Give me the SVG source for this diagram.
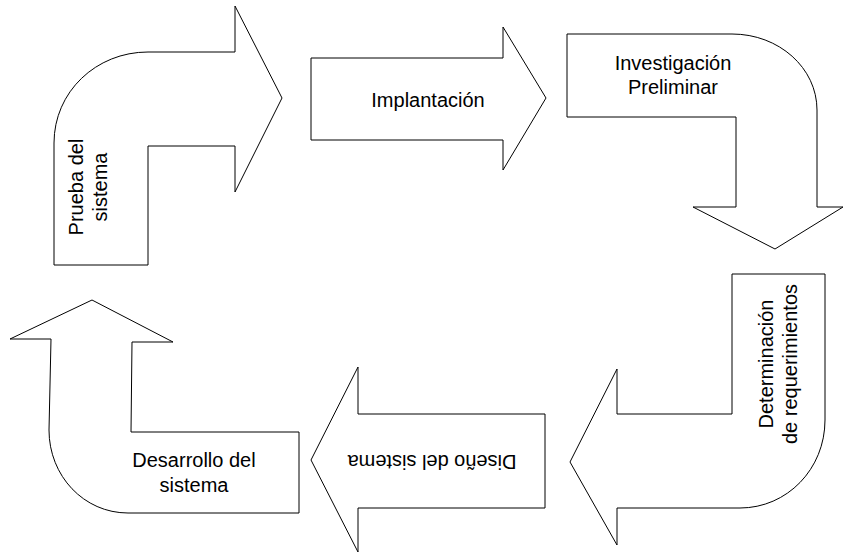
<svg xmlns="http://www.w3.org/2000/svg" width="845" height="553" viewBox="0 0 845 553">
  <style>
    .shape { fill: #ffffff; stroke: #000000; stroke-width: 1; stroke-linejoin: miter; }
    .label { font-family: "Liberation Sans", Arial, sans-serif; font-size: 20px; fill: #000000; text-anchor: middle; }
  </style>
  <rect width="845" height="553" fill="#ffffff"/>

  <!-- Bent arrow: up then right -->
  <g id="prueba">
    <path class="shape" d="M54,265 L148,265 L148,146 L235,146 L235,192 L282,98 L235,6 L235,52 L148,52 C96,52 54,92 54,143 Z"/>
    <text class="label" transform="rotate(-90 83 187)" x="83" y="187">Prueba del</text>
    <text class="label" transform="rotate(-90 107 187)" x="107" y="187">sistema</text>
  </g>

  <!-- Straight arrow pointing right -->
  <g id="implantacion">
    <path class="shape" d="M311,58 L503,58 L503,27 L546,98 L503,170 L503,140 L311,140 Z"/>
    <text class="label" x="428" y="107">Implantación</text>
  </g>

  <!-- Bent arrow: right then down -->
  <g id="investigacion">
    <path class="shape" d="M567,34 L732,34 C779,34 817,68 817,110 L817,207 L843,207 L775,249 L693,207 L736,207 L736,117 L567,117 Z"/>
    <text class="label" x="673" y="70">Investigación</text>
    <text class="label" x="673" y="94">Preliminar</text>
  </g>

  <!-- Bent arrow: down then left -->
  <g id="determinacion">
    <path class="shape" d="M825,274 L732,274 L732,414 L617,414 L617,369 L570,462 L617,545 L617,508 L740,508 C787,508 825,469 825,420 Z"/>
    <text class="label" transform="rotate(-90 773 364)" x="773" y="364">Determinación</text>
    <text class="label" transform="rotate(-90 797 364)" x="797" y="364">de requerimientos</text>
  </g>

  <!-- Straight arrow pointing left -->
  <g id="diseno">
    <path class="shape" d="M545,414 L358,414 L358,367 L311,460 L358,552 L358,508 L545,508 Z"/>
    <text class="label" transform="rotate(180 432 455)" x="432" y="455">Diseño del sistema</text>
  </g>

  <!-- Bent arrow: left then up -->
  <g id="desarrollo">
    <path class="shape" d="M299,432 L131,432 L132,342 L173,342 L92,300 L10,339 L51,339 L49,430 C49,476 84,513 128,513 L299,513 Z"/>
    <text class="label" x="194" y="467">Desarrollo del</text>
    <text class="label" x="194" y="492">sistema</text>
  </g>
</svg>
